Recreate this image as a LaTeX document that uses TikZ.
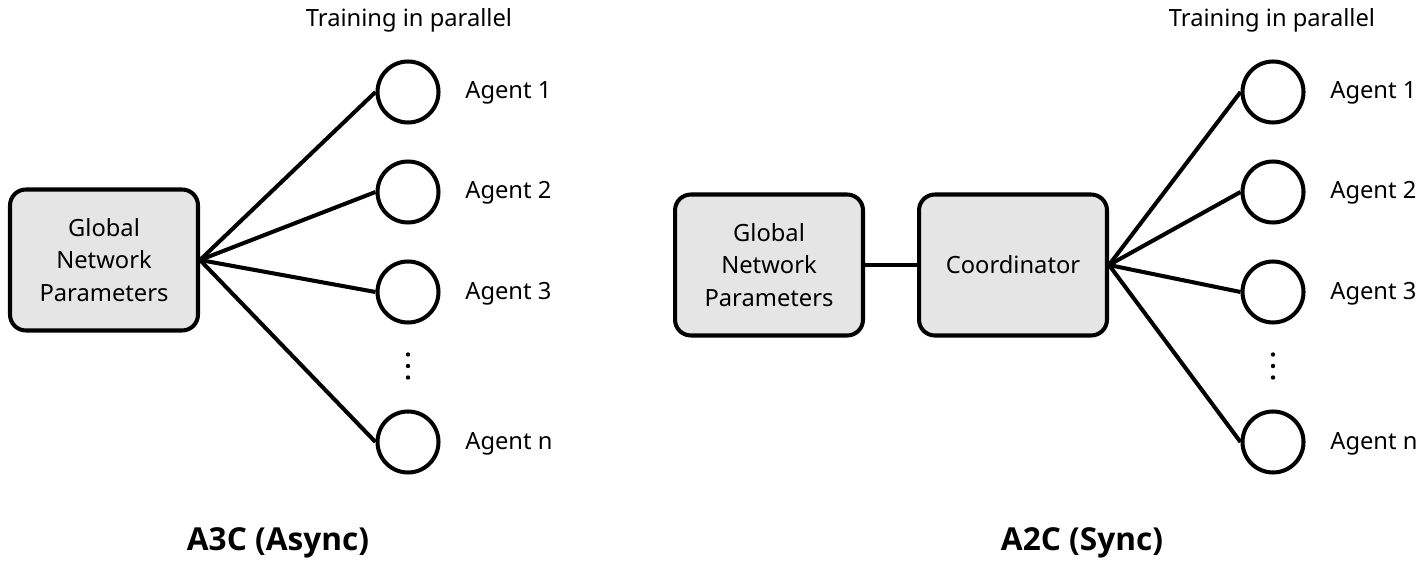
\documentclass[tikz,border=0pt]{standalone}
\usepackage{fontspec}
\setmainfont{Noto Sans}
\newfontfamily\titleFont{Open Sans}
\usetikzlibrary{positioning}

\newcommand{\lineWidth}{2.3pt}
\newcommand{\agentSize}{1.22cm}
\newcommand{\boxWidth}{3.76cm}
\newcommand{\boxHeight}{2.82cm}
\newcommand{\trainLabel}{Training in parallel}
\newcommand{\agentNames}{1/92/Agent 1, 2/192/Agent 2, 3/292/Agent 3, n/442/Agent n}

\tikzset{
	paramBox/.style={draw, line width=\lineWidth, rounded corners=9pt, fill=black!10, minimum width=\boxWidth, minimum height=\boxHeight, align=center, inner sep=0pt, font=\fontsize{13.5}{18.5}\selectfont},
	agentCircle/.style={draw, circle, line width=\lineWidth, minimum size=\agentSize, inner sep=0pt},
	agentText/.style={anchor=base west, inner sep=0pt, font=\fontsize{13.5}{16}\selectfont},
	link/.style={line width=\lineWidth},
	panelTitle/.style={anchor=base, inner sep=0pt, font=\titleFont\fontsize{18}{20}\selectfont\bfseries},
}

\begin{document}
\begin{tikzpicture}[x=0.02cm, y=-0.02cm]
	\useasboundingbox (0,0) rectangle (1425,567);
	
	% A3C (Async)
	\node[paramBox] (globalA) at (104,260) {Global\\Network\\Parameters};
	\foreach \id/\ypos/\name in \agentNames
	{
		\node[agentCircle] (agentA\id) at (408,\ypos) {};
		\node[agentText] (nameA\id) at (465,\ypos+7) {\name};
		\draw[link] (globalA.east) -- (agentA\id.west);
	}
	\coordinate (dotsA) at (408,366);
	\foreach \dy in {-11.5,0,11.5}
		\fill (dotsA) ++(0,\dy) circle (2.2);
	\node[agentText, anchor=base] (trainA) at (409,27) {\trainLabel};
	\node[panelTitle] (titleA) at (278,550) {A3C (Async)};
	
	% A2C (Sync)
	\node[paramBox] (globalB) at (769,265) {Global\\Network\\Parameters};
	\node[paramBox, right=1.04cm of globalB] (coordB) {Coordinator};
	\draw[link] (globalB) -- (coordB);
	\foreach \id/\ypos/\name in \agentNames
	{
		\node[agentCircle] (agentB\id) at (1273,\ypos) {};
		\node[agentText] (nameB\id) at (1330,\ypos+7) {\name};
		\draw[link] (coordB.east) -- (agentB\id.west);
	}
	\coordinate (dotsB) at (1273,366);
	\foreach \dy in {-11.5,0,11.5}
		\fill (dotsB) ++(0,\dy) circle (2.2);
	\node[agentText, anchor=base] (trainB) at (1272,27) {\trainLabel};
	\node[panelTitle] (titleB) at (1082,550) {A2C (Sync)};
\end{tikzpicture}
\end{document}
